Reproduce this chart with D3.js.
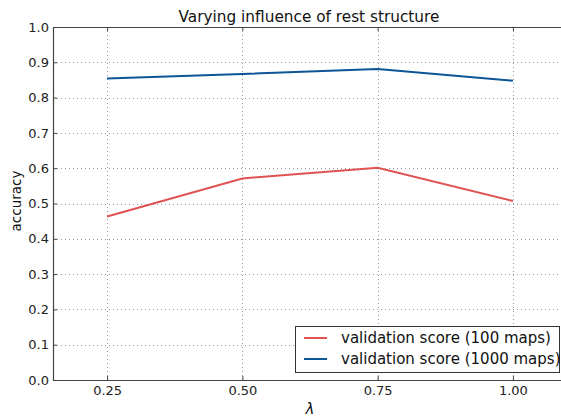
<!DOCTYPE html>
<html><head><meta charset="utf-8">
<script src="https://cdn.jsdelivr.net/npm/d3@7"></script>
<style>body{margin:0;background:#fff}svg{display:block;font-family:"DejaVu Sans",sans-serif}</style>
</head><body><svg id="c" width="561" height="417"></svg>
<script>
const lambdas = [0.25, 0.50, 0.75, 1.00];
const score100 = [0.463, 0.571, 0.601, 0.507];
const score1000 = [0.854, 0.867, 0.881, 0.848];
const xTicks = [0.25, 0.50, 0.75, 1.00];
const yTicks = [0.0,0.1,0.2,0.3,0.4,0.5,0.6,0.7,0.8,0.9,1.0];
const seriesNames = ["validation score (100 maps)", "validation score (1000 maps)"];
const colors = ["#e05252", "#0d5597"];

const svg = d3.select("#c");
const L = 53, T = 27, B = 380, R = 567;
const x = d3.scaleLinear().domain([0.15, 1.1]).range([L, R]);
const y = d3.scaleLinear().domain([0, 1]).range([B, T]);

// grid
const g = svg.append("g");
g.selectAll(".gx").data(xTicks).enter().append("line")
  .attr("x1", d=>Math.round(x(d))+0.5).attr("x2", d=>Math.round(x(d))+0.5)
  .attr("y1", T).attr("y2", B).attr("stroke","#999").attr("stroke-dasharray","1,3");
g.selectAll(".gy").data(yTicks.slice(1,-1)).enter().append("line")
  .attr("y1", d=>Math.round(y(d))+0.5).attr("y2", d=>Math.round(y(d))+0.5)
  .attr("x1", L).attr("x2", R).attr("stroke","#999").attr("stroke-dasharray","1,3");

// lines
const line = d3.line().x((d,i)=>x(lambdas[i])).y(d=>y(d));
[score100, score1000].forEach((s,i)=>{
  svg.append("path").datum(s).attr("d", line).attr("fill","none")
    .attr("stroke", colors[i]).attr("stroke-width", 2);
});

// axes
const xAxis = d3.axisBottom(x).tickValues(xTicks).tickFormat(d3.format(".2f")).tickSizeInner(-4).tickSizeOuter(0).tickPadding(6);
const yAxis = d3.axisLeft(y).tickValues(yTicks).tickFormat(d3.format(".1f")).tickSizeInner(-4).tickSizeOuter(0).tickPadding(4);
const xTop = d3.axisTop(x).tickValues(xTicks).tickFormat("").tickSizeInner(-4).tickSizeOuter(0);
const ax = svg.append("g").attr("transform",`translate(0,${B})`).call(xAxis);
const ay = svg.append("g").attr("transform",`translate(${L},0)`).call(yAxis);
const at = svg.append("g").attr("transform",`translate(0,${T})`).call(xTop);
[ax, ay, at].forEach(a=>{
  a.select(".domain").attr("stroke","#444").attr("stroke-width",1.2);
  a.selectAll(".tick line").attr("stroke","#444");
  a.selectAll("text").attr("font-size",13).attr("fill","#222").attr("font-family","DejaVu Sans");
});

// title & labels
svg.append("text").attr("x",309).attr("y",22).attr("text-anchor","middle")
  .attr("font-size",15.3).attr("fill","#111").text("Varying influence of rest structure");
svg.append("text").attr("transform","translate(21,201) rotate(-90)").attr("text-anchor","middle")
  .attr("font-size",13.5).attr("fill","#111").text("accuracy");
svg.append("text").attr("x",310).attr("y",414).attr("text-anchor","middle")
  .attr("font-size",15).attr("font-style","italic").attr("fill","#111").text("λ");

// legend
const lg = svg.append("g");
lg.append("rect").attr("x",295.5).attr("y",326.5).attr("width",264).attr("height",46)
  .attr("fill","#fff").attr("stroke","#333").attr("stroke-width",1);
seriesNames.forEach((n,i)=>{
  const yy = 338 + i*21;
  lg.append("line").attr("x1",304).attr("x2",327).attr("y1",yy).attr("y2",yy)
    .attr("stroke",colors[i]).attr("stroke-width",2);
  lg.append("text").attr("x",341).attr("y",yy+5).attr("font-size",15).attr("fill","#111").text(n);
});
</script></body></html>
